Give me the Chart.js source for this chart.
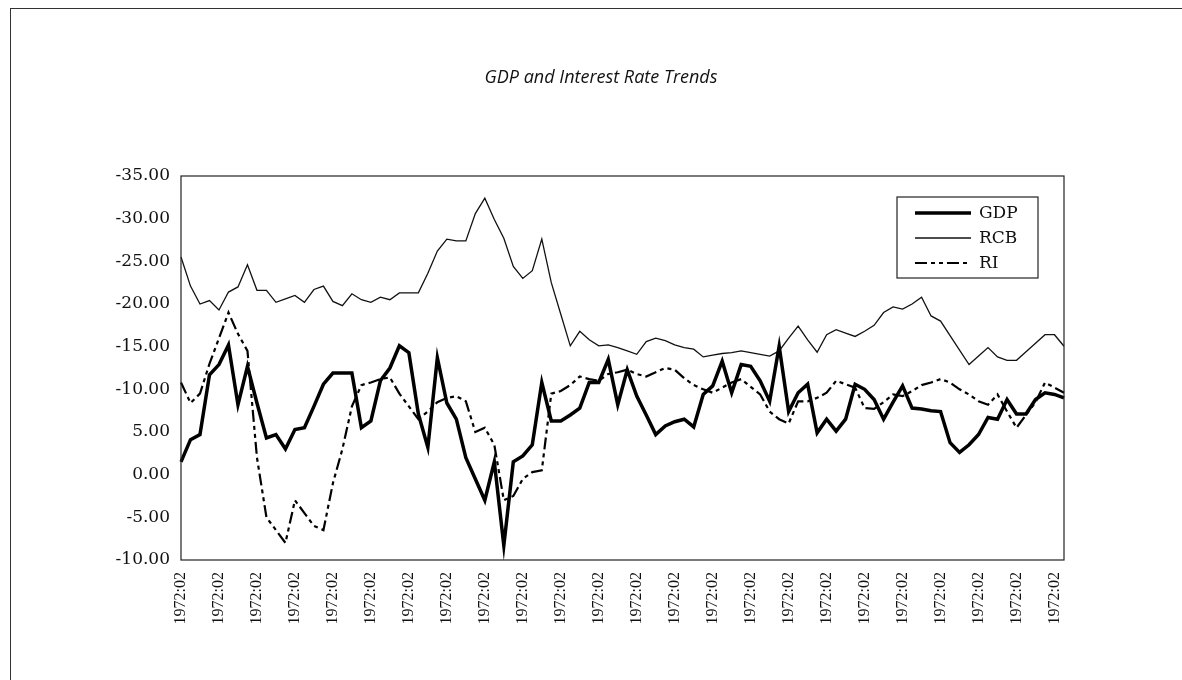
<!DOCTYPE html>
<html>
<head>
<meta charset="utf-8">
<title>GDP and Interest Rate Trends</title>
<script src="https://cdn.jsdelivr.net/npm/chart.js@4.4.1/dist/chart.umd.min.js"></script>
<style>
    body { margin: 0; background: #fff; }
    #page { position: relative; width: 1182px; height: 680px; }
    #marco { position: absolute; left: 10px; top: 8px; right: 0; bottom: 0; border-left: 1px solid #333; border-top: 1px solid #333; }
    #grafico { position: absolute; left: 0; top: 0; }
</style>
</head>
<body>
<div id="page">
    <div id="marco"></div>
    <canvas id="grafico" width="1182" height="680"></canvas>
</div>
<script>
// Etiquetas de los ejes -------------------------
const etiquetasX = [
    '1972:02', '1972:02', '1972:02', '1972:02', '1972:02', '1972:02',
    '1972:02', '1972:02', '1972:02', '1972:02', '1972:02', '1972:02',
    '1972:02', '1972:02', '1972:02', '1972:02', '1972:02', '1972:02',
    '1972:02', '1972:02', '1972:02', '1972:02', '1972:02', '1972:02'
];
const etiquetasY = ['-10.00', '-5.00', '0.00', '5.00', '-10.00', '-15.00', '-20.00', '-25.00', '-30.00', '-35.00'];
const cadaEtiqueta = 4; // una etiqueta cada 4 trimestres

// Series ---------------------------------------
const gdp = [
    1.5, 4.1, 4.7, 11.7, 12.9, 15.2, 8.2, 12.7, 8.4, 4.3,
    4.7, 3.0, 5.3, 5.5, 8.0, 10.6, 11.9, 11.9, 11.9, 5.5,
    6.3, 11.0, 12.5, 15.1, 14.3, 7.1, 3.2, 13.7, 8.4, 6.5,
    2.0, -0.5, -3.0, 1.5, -8.3, 1.5, 2.2, 3.5, 10.8, 6.3,
    6.3, 7.0, 7.8, 10.8, 10.8, 13.5, 8.2, 12.3, 9.2, 7.0,
    4.7, 5.7, 6.2, 6.5, 5.6, 9.4, 10.4, 13.3, 9.6, 12.9,
    12.7, 11.0, 8.6, 15.05, 7.4, 9.6, 10.6, 4.9, 6.5, 5.1,
    6.5, 10.6, 10.0, 8.8, 6.5, 8.5, 10.4, 7.8, 7.7, 7.5,
    7.4, 3.75, 2.6, 3.5, 4.7, 6.7, 6.5, 8.8, 7.1, 7.1,
    8.8, 9.6, 9.4, 9.0
];
const rcb = [
    25.5, 22.1, 20.0, 20.4, 19.3, 21.4, 22.0, 24.6, 21.6, 21.6,
    20.2, 20.6, 21.0, 20.2, 21.7, 22.1, 20.3, 19.8, 21.2, 20.5,
    20.2, 20.8, 20.5, 21.3, 21.3, 21.3, 23.6, 26.2, 27.6, 27.4,
    27.4, 30.6, 32.4, 29.9, 27.7, 24.4, 23.0, 23.9, 27.6, 22.5,
    18.8, 15.1, 16.8, 15.8, 15.1, 15.2, 14.9, 14.5, 14.1, 15.6,
    16.0, 15.7, 15.2, 14.9, 14.7, 13.8, 14.0, 14.2, 14.3, 14.5,
    14.3, 14.1, 13.9, 14.5, 16.0, 17.4, 15.8, 14.35, 16.4, 17.0,
    16.6, 16.2, 16.8, 17.5, 19.0, 19.65, 19.4, 20.0, 20.8, 18.6,
    18.0, 16.3, 14.6, 12.9, 13.9, 14.9, 13.8, 13.4, 13.4, 14.4,
    15.4, 16.4, 16.4, 15.05
];
const ri = [
    10.8, 8.4, 9.5, 13.0, 16.0, 19.0, 16.5, 14.5, 2.0, -5.0,
    -6.5, -8.0, -3.0, -4.5, -6.0, -6.5, -1.0, 3.0, 8.0, 10.5,
    10.8, 11.2, 11.4, 9.5, 8.0, 6.5, 7.4, 8.5, 9.0, 9.2,
    8.6, 5.0, 5.5, 3.5, -3.0, -2.5, -0.5, 0.3, 0.5, 9.5,
    9.8, 10.5, 11.5, 11.2, 11.0, 11.8, 12.0, 12.3, 11.8, 11.5,
    12.0, 12.5, 12.3, 11.3, 10.5, 10.0, 9.6, 10.2, 10.8, 11.2,
    10.3, 9.4, 7.4, 6.5, 6.0, 8.6, 8.6, 9.0, 9.6, 11.0,
    10.6, 10.2, 7.8, 7.7, 8.5, 9.4, 9.2, 9.8, 10.5, 10.8,
    11.2, 10.8, 10.0, 9.4, 8.6, 8.2, 9.4, 7.4, 5.5, 7.0,
    8.5, 10.8, 10.2, 9.6
];

// Una categoría por trimestre, con texto sólo donde va la etiqueta
const categorias = gdp.map((_, i) => (i % cadaEtiqueta === 0 ? etiquetasX[i / cadaEtiqueta] : ''));

// Marco del área de trazado
const marcoArea = {
    id: 'marcoArea',
    afterDatasetsDraw(chart) {
        const { ctx, chartArea } = chart;
        ctx.save();
        ctx.strokeStyle = '#222';
        ctx.lineWidth = 1.2;
        ctx.strokeRect(chartArea.left, chartArea.top, chartArea.right - chartArea.left, chartArea.bottom - chartArea.top);
        ctx.restore();
    }
};

// Leyenda con recuadro dentro del área
const leyendaCaja = {
    id: 'leyendaCaja',
    afterDraw(chart) {
        const { ctx, chartArea } = chart;
        const x = chartArea.right - 167;
        const y = chartArea.top + 21;
        ctx.save();
        ctx.fillStyle = '#fff';
        ctx.fillRect(x, y, 141, 81);
        ctx.strokeStyle = '#222';
        ctx.lineWidth = 1.2;
        ctx.strokeRect(x, y, 141, 81);
        chart.data.datasets.forEach((ds, i) => {
            const ly = y + 16 + i * 25;
            ctx.beginPath();
            ctx.strokeStyle = ds.borderColor;
            ctx.lineWidth = ds.borderWidth;
            ctx.setLineDash(ds.borderDash || []);
            ctx.moveTo(x + 18, ly);
            ctx.lineTo(x + 74, ly);
            ctx.stroke();
            ctx.setLineDash([]);
            ctx.fillStyle = '#111';
            ctx.font = '17px "DejaVu Serif"';
            ctx.textBaseline = 'middle';
            ctx.fillText(ds.label, x + 82, ly + 1);
        });
        ctx.restore();
    }
};

const ctx = document.getElementById('grafico');

new Chart(ctx, {
    type: 'line',
    data: {
        labels: categorias,
        datasets: [
            { label: 'GDP', data: gdp, borderColor: '#000', borderWidth: 3.5, pointRadius: 0, tension: 0 },
            { label: 'RCB', data: rcb, borderColor: '#111', borderWidth: 1.3, pointRadius: 0, tension: 0 },
            { label: 'RI', data: ri, borderColor: '#000', borderWidth: 2.2, borderDash: [12, 4, 4, 4, 4, 4], pointRadius: 0, tension: 0 }
        ]
    },
    options: {
        responsive: false,
        animation: false,
        layout: { padding: { left: 20, right: 0, top: 0, bottom: 0 } },
        plugins: {
            legend: { display: false },
            tooltip: { enabled: false },
            title: {
                display: true,
                text: 'GDP and Interest Rate Trends',
                color: '#111',
                font: { family: "'Open Sans', sans-serif", size: 18, style: 'italic', weight: 'normal' },
                padding: { top: 67, bottom: 87.4 }
            }
        },
        scales: {
            x: {
                grid: { display: false, drawTicks: false },
                border: { display: false },
                ticks: {
                    autoSkip: false,
                    maxRotation: 90,
                    minRotation: 90,
                    padding: 12,
                    color: '#111',
                    font: { family: "'Liberation Serif', serif", size: 16 }
                },
                afterFit(scale) { scale.height = 120; }
            },
            y: {
                min: -10,
                max: 35,
                grid: { display: false, drawTicks: false },
                border: { display: false },
                ticks: {
                    stepSize: 5,
                    padding: 11,
                    color: '#111',
                    font: { family: "'DejaVu Serif', serif", size: 17 },
                    callback: (valor) => etiquetasY[Math.round((valor + 10) / 5)]
                },
                afterFit(scale) { scale.width = 161; }
            },
            // margen derecho sin marcas
            margen: {
                position: 'right',
                grid: { display: false, drawTicks: false },
                border: { display: false },
                ticks: { display: false },
                afterFit(scale) { scale.width = 118; }
            }
        }
    },
    plugins: [marcoArea, leyendaCaja]
});
</script>
</body>
</html>
